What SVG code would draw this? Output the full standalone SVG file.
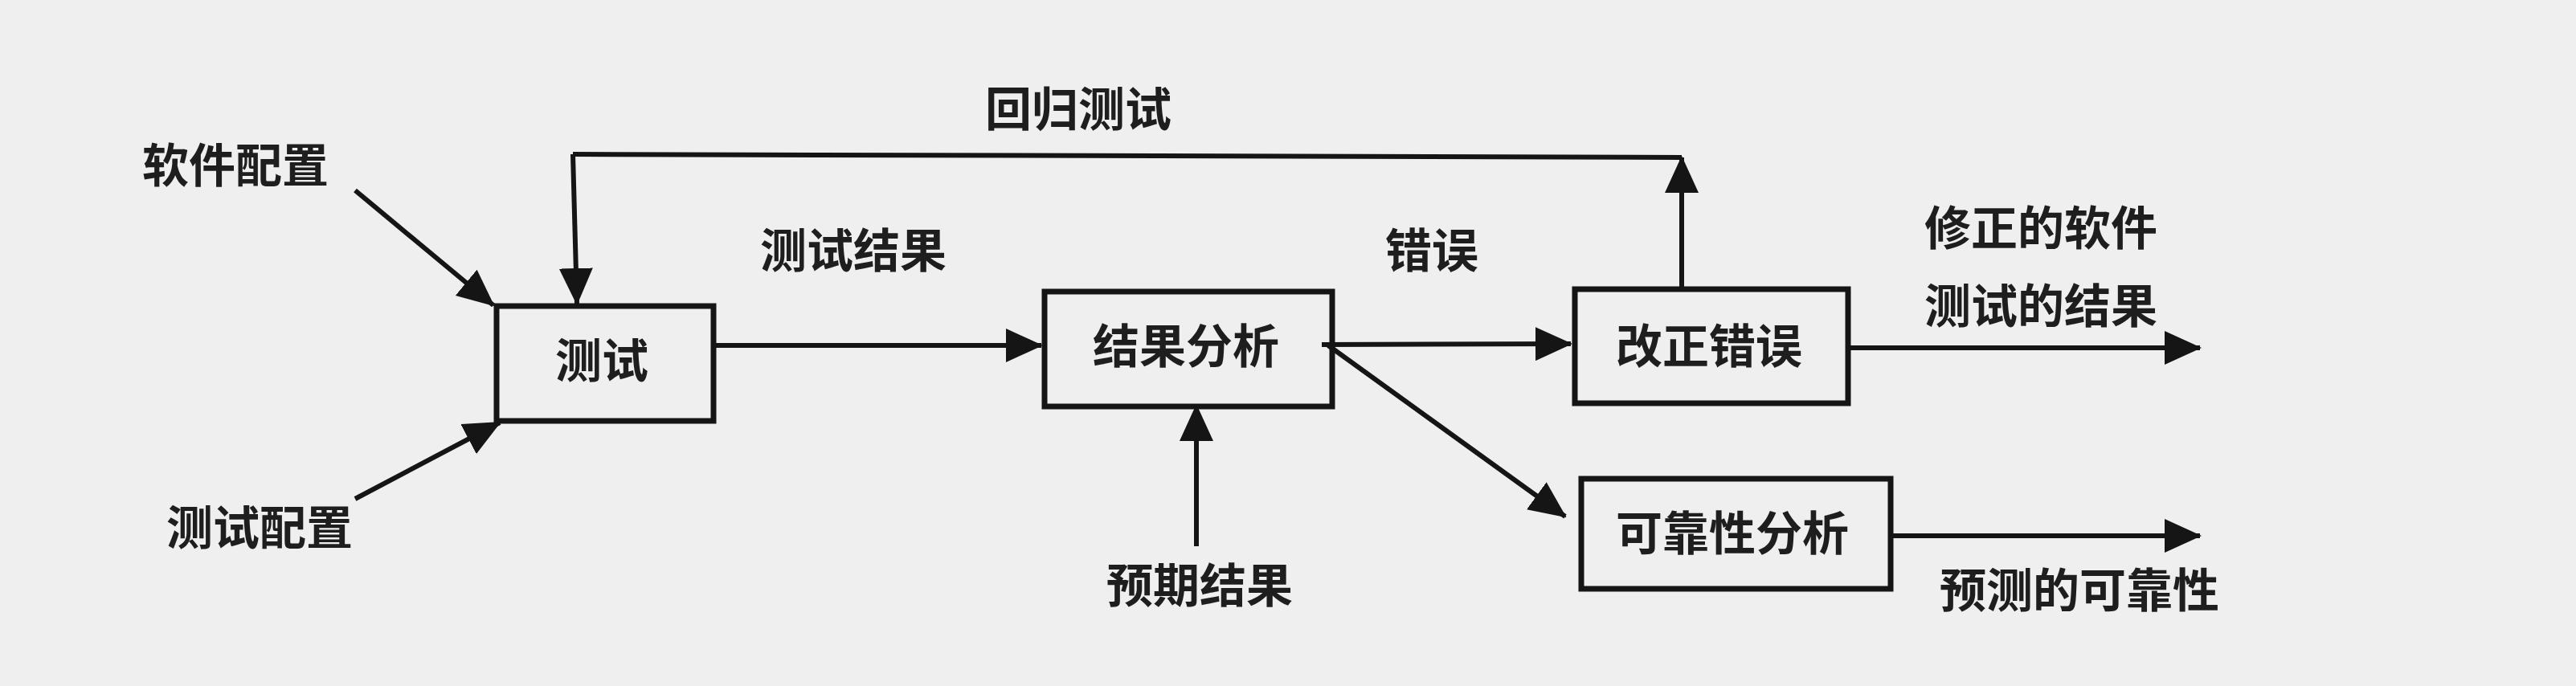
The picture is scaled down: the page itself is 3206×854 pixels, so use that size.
<svg xmlns="http://www.w3.org/2000/svg" width="3206" height="854" viewBox="0 0 3206 854">
<style>
.t{font-family:"Noto Sans CJK SC","Noto Sans",sans-serif;font-weight:bold;fill:#1e1e1e;text-anchor:middle;dominant-baseline:central;font-size:58px}
.box{fill:none;stroke:#151515;stroke-width:7}
.ln{fill:none;stroke:#151515;stroke-width:6}
</style>
<defs>
<marker id="ah" markerUnits="userSpaceOnUse" markerWidth="46" markerHeight="42" refX="44" refY="21" orient="auto">
<path d="M0,0 L46,21 L0,42 z" fill="#151515"/>
</marker>
</defs>
<rect width="3206" height="854" fill="#efefef"/>
<g id="connectors">
<line class="ln" x1="442" y1="237" x2="614" y2="380" marker-end="url(#ah)"/>
<line class="ln" x1="442" y1="621" x2="622" y2="526" marker-end="url(#ah)"/>
<polyline class="ln" points="2093,357 2093,196" marker-end="url(#ah)"/>
<line class="ln" x1="2093" y1="196" x2="713" y2="192"/>
<line class="ln" x1="713" y1="192" x2="718" y2="378" marker-end="url(#ah)"/>
<line class="ln" x1="888" y1="430" x2="1296" y2="430" marker-end="url(#ah)"/>
<line class="ln" x1="1645" y1="429" x2="1955" y2="428" marker-end="url(#ah)"/>
<line class="ln" x1="1653" y1="430" x2="1948" y2="643" marker-end="url(#ah)"/>
<line class="ln" x1="1489" y1="680" x2="1489" y2="505" marker-end="url(#ah)"/>
<line class="ln" x1="2300" y1="433" x2="2738" y2="433" marker-end="url(#ah)"/>
<line class="ln" x1="2353" y1="667" x2="2738" y2="667" marker-end="url(#ah)"/>
</g>
<g id="node-test">
<rect class="box" x="618" y="381" width="270" height="143"/>
<text class="t" x="749" y="445" font-size="60">测试</text>
</g>
<g id="node-analysis">
<rect class="box" x="1300" y="363" width="358" height="143"/>
<text class="t" x="1476" y="427">结果分析</text>
</g>
<g id="node-fix">
<rect class="box" x="1960" y="360" width="340" height="142"/>
<text class="t" x="2127" y="427">改正错误</text>
</g>
<g id="node-reliability">
<rect class="box" x="1968" y="596" width="385" height="137"/>
<text class="t" x="2156" y="660" font-size="56">可靠性分析</text>
</g>
<g id="labels">
<text class="t" x="293" y="202" font-size="63">软件配置</text>
<text class="t" x="323" y="653" font-size="62">测试配置</text>
<text class="t" x="1062" y="308" font-size="60">测试结果</text>
<text class="t" x="1342" y="132">回归测试</text>
<text class="t" x="1782" y="308">错误</text>
<text class="t" x="1493" y="725">预期结果</text>
<text class="t" x="2540" y="280" font-size="55">修正的软件</text>
<text class="t" x="2540" y="377" font-size="55">测试的结果</text>
<text class="t" x="2588" y="731" font-size="55">预测的可靠性</text>
</g>
</svg>
